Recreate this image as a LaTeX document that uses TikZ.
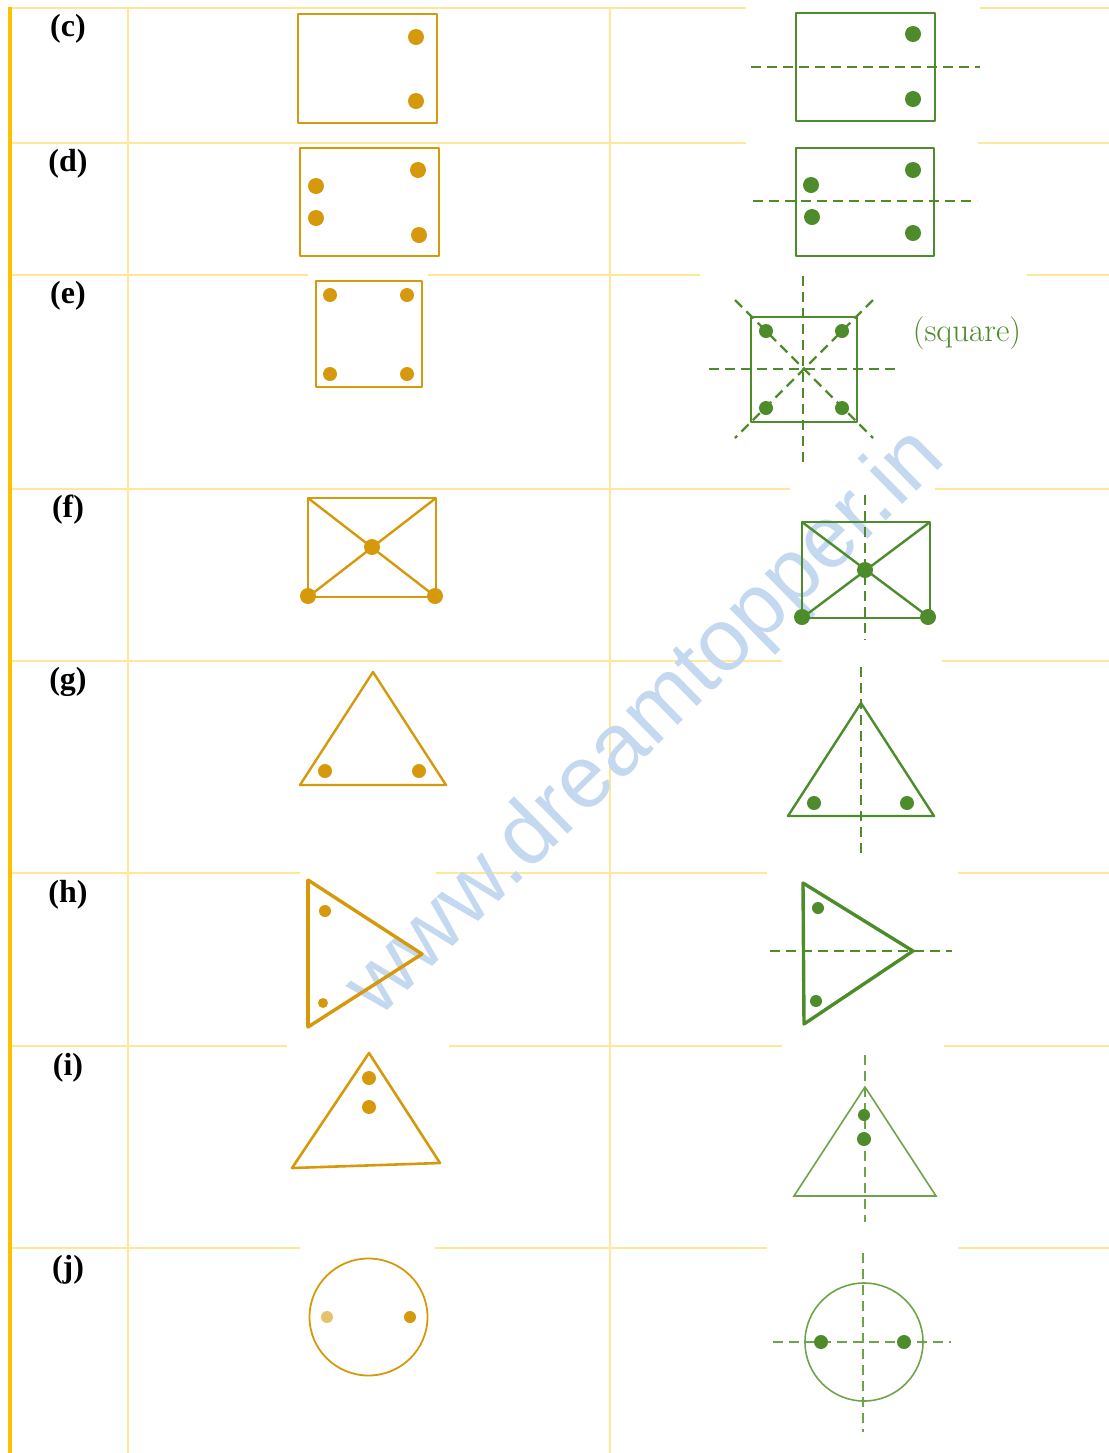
\documentclass[tikz,border=0pt]{standalone}
\usepackage{fontspec}
\usepackage{tikz}
\newfontfamily\rowfont{Liberation Serif}
\newfontfamily\markfont{Liberation Sans}
\definecolor{ambar}{HTML}{FFC000}
\definecolor{ambarclaro}{HTML}{FFE699}
\definecolor{ocre}{HTML}{D6990C}
\definecolor{verde}{HTML}{4D8B2B}
\definecolor{verdeclaro}{HTML}{6EA449}
\definecolor{azulmarca}{HTML}{C4D8F0}

\begin{document}
\begin{tikzpicture}[x=0.5pt,y=-0.5pt,
  grade/.style={ambarclaro,line width=1pt},
  gap/.style={white},
  rot/.style={font=\rowfont\bfseries\fontsize{16}{18}\selectfont},
  ofig/.style={ocre,line width=1.2pt,line join=round},
  vfig/.style={verde,line width=1.2pt,line join=round},
  eixo/.style={verde,line width=1.1pt,dash pattern=on 5pt off 3pt},
  marca/.style={azulmarca,font=\markfont\fontsize{44}{48}\selectfont}
]
  \useasboundingbox (0,0) rectangle (1109,1453);

  % table
  \foreach \y in {8,143,275,489,661,873,1046,1248}
    \draw[grade] (10,\y) -- (1109,\y);
  \draw[grade] (128,8) -- (128,1453);
  \draw[grade] (610,8) -- (610,1453);
  \foreach \a/\b/\y in {746/980/8,746/978/143,308/428/275,700/1027/275,
      790/935/489,782/942/661,300/436/873,767/958/873,287/449/1046,
      782/944/1046,300/435/1248,767/958/1248}
    \fill[gap] (\a,\y-3) rectangle (\b,\y+3);
  \draw[ambar,line width=2pt] (10,7) -- (10,1453);

  \node[rot] (lc) at (68,29) {(c)};
  \node[rot] (ld) at (68,164) {(d)};
  \node[rot] (le) at (68,296) {(e)};
  \node[rot] (lf) at (68,510) {(f)};
  \node[rot] (lg) at (68,682) {(g)};
  \node[rot] (lh) at (68,895) {(h)};
  \node[rot] (li) at (68,1068) {(i)};
  \node[rot] (lj) at (68,1270) {(j)};

  \node[marca,rotate=44.5] (wm) at (647,724) {www.dreamtopper.in};

  % (c)
  \draw[ofig] (298,14) rectangle (437,123);
  \fill[ocre] (416,37) circle (4pt) (416,101) circle (4pt);
  \draw[vfig] (796,13) rectangle (935,121);
  \draw[eixo] (751,67) -- (980,67);
  \fill[verde] (913,34) circle (4pt) (913,99) circle (4pt);

  % (d)
  \draw[ofig] (300,148) rectangle (439,256);
  \fill[ocre] (418,170) circle (4pt) (316,186) circle (4pt)
    (316,218) circle (4pt) (419,235) circle (4pt);
  \draw[vfig] (796,148) rectangle (934,256);
  \draw[eixo] (753,201) -- (977,201);
  \fill[verde] (913,170) circle (4pt) (811,185) circle (4pt)
    (812,217) circle (4pt) (913,233) circle (4pt);

  % (e)
  \draw[ofig] (316,281) rectangle (422,387);
  \fill[ocre] (330,295) circle (3.5pt) (407,295) circle (3.5pt)
    (330,374) circle (3.5pt) (407,374) circle (3.5pt);
  \draw[vfig] (751,317) rectangle (857,422);
  \draw[eixo] (803,276) -- (803,463);
  \draw[eixo] (709,369) -- (898,369);
  \draw[eixo] (735,300) -- (873,438);
  \draw[eixo] (873,300) -- (735,438);
  \fill[verde] (766,331) circle (3.5pt) (842,331) circle (3.5pt)
    (766,408) circle (3.5pt) (842,408) circle (3.5pt);
  \node[verde,font=\fontsize{16.5}{19}\selectfont] (sq) at (967,333) {(square)};

  % (f)
  \draw[ofig] (308,498) rectangle (436,597);
  \draw[ofig] (308,498) -- (436,597) (436,498) -- (308,597);
  \fill[ocre] (372,547) circle (4pt) (308,596) circle (4pt) (435,596) circle (4pt);
  \draw[vfig] (802,522) rectangle (930,618);
  \draw[vfig] (802,522) -- (930,618) (930,522) -- (802,618);
  \draw[eixo] (865,495) -- (865,640);
  \fill[verde] (865,570) circle (4pt) (802,617) circle (4pt) (928,617) circle (4pt);

  % (g)
  \draw[ofig] (373,672) -- (446,785) -- (300,785) -- cycle;
  \fill[ocre] (325,771) circle (3.5pt) (419,771) circle (3.5pt);
  \draw[vfig] (861,703) -- (934,816) -- (788,816) -- cycle;
  \draw[eixo] (861,667) -- (861,855);
  \fill[verde] (814,803) circle (3.5pt) (907,803) circle (3.5pt);

  % (h)
  \draw[ofig,line width=1.7pt] (308,880) -- (422,954) -- (308,1027) -- cycle;
  \draw[ocre,line width=2.3pt] (308,880) -- (308,1027);
  \fill[ocre] (325,911) circle (3pt) (323,1003) circle (2.5pt);
  \draw[vfig,line width=1.7pt] (803,883) -- (913,951) -- (804,1024) -- cycle;
  \draw[eixo,line width=0.8pt] (770,951) -- (952,951);
  \fill[verde] (818,908) circle (3pt) (816,1001) circle (3pt);

  % (i)
  \draw[ofig,line width=1.3pt] (369,1053) -- (440,1163) -- (292,1168) -- cycle;
  \fill[ocre] (369,1078) circle (3.5pt) (369,1107) circle (3.5pt);
  \draw[verdeclaro,line width=0.8pt] (865,1087) -- (936,1196) -- (794,1196) -- cycle;
  \draw[eixo,verdeclaro,line width=0.8pt] (865,1055) -- (865,1222);
  \fill[verde] (864,1115) circle (3pt) (864,1139) circle (3.5pt);

  % (j)
  \draw[ocre,line width=0.9pt] (368.5,1317) circle [x radius=29.5pt,y radius=29.25pt];
  \fill[ocre!60] (327,1317) circle (3pt);
  \fill[ocre] (410,1317) circle (3pt);
  \draw[verdeclaro,line width=0.8pt] (864,1342) circle (29.5pt);
  \draw[eixo,verdeclaro,line width=0.8pt] (773,1342) -- (951,1342);
  \draw[eixo,verdeclaro,line width=0.8pt] (863,1253) -- (863,1432);
  \fill[verde] (821,1342) circle (3.5pt) (904,1342) circle (3.5pt);
\end{tikzpicture}
\end{document}
